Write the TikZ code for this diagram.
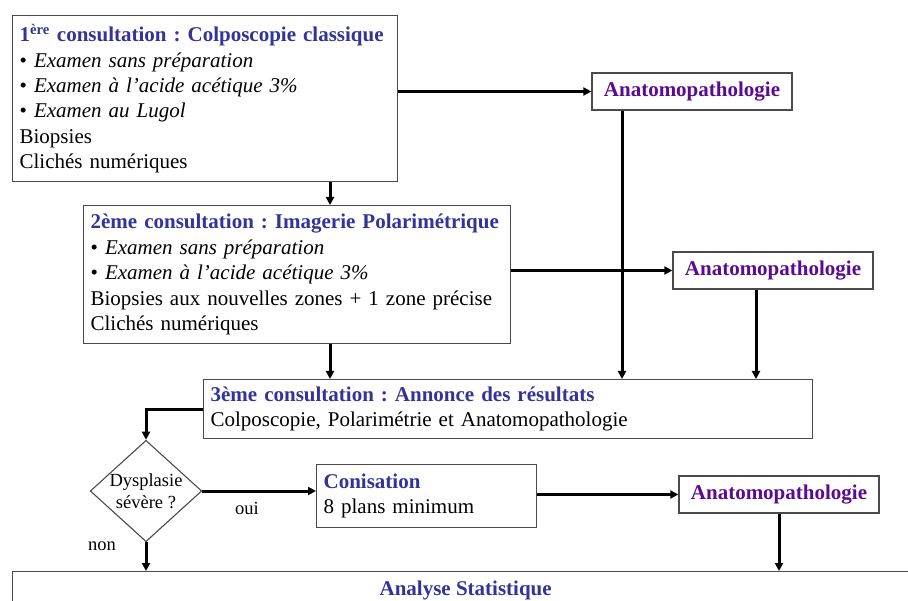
\documentclass[tikz,border=0pt]{standalone}
\usepackage{fontspec}
\setmainfont{Liberation Serif}
\usepackage{xcolor}
\definecolor{StepBlue}{HTML}{333399}
\definecolor{PathoPurple}{HTML}{5C0A91}
\definecolor{FrameGray}{HTML}{4A4A4A}
\usepackage{tikz}
\usetikzlibrary{positioning,arrows.meta,shapes.geometric,calc}
\frenchspacing
\tikzset{
  cbox/.style={draw=FrameGray,line width=1.3pt,fill=white,anchor=north west,align=left,inner xsep=7pt,inner ysep=0pt,font=\fontsize{21}{25.4}\selectfont},
  pbox/.style={draw=FrameGray,line width=1.3pt,fill=white,minimum width=200pt,minimum height=37pt,inner sep=0pt,font=\fontsize{21}{25}\selectfont\bfseries,text=PathoPurple},
  qdiamond/.style={diamond,draw=FrameGray,line width=1.1pt,aspect=1.1,inner sep=0pt,minimum width=110pt,minimum height=98pt,align=center,font=\fontsize{18.5}{22}\selectfont},
  flabel/.style={font=\fontsize{18.5}{22}\selectfont},
  flow/.style={-{Triangle[length=8pt,width=8pt]},line width=3pt}
}
\newcommand{\steptitle}[1]{{\color{StepBlue}\bfseries #1}}
\begin{document}
\begin{tikzpicture}[x=1pt,y=-1pt]
  \path[use as bounding box,clip] (0,0) rectangle (908,601);
  \fill[white] (0,0) rectangle (908,601);
  % consultations
  \node[cbox,text width=371pt,minimum height=166pt] (visit1) at (12,15)
    {\steptitle{1\textsuperscript{ère} consultation : Colposcopie classique}\\
     • \textit{Examen sans préparation}\\
     • \textit{Examen à l’acide acétique 3\%}\\
     • \textit{Examen au Lugol}\\
     Biopsies\\
     Clichés numériques};
  \node[cbox,text width=413pt,minimum height=138pt] (visit2) at (83,205)
    {\steptitle{2ème consultation : Imagerie Polarimétrique}\\
     • \textit{Examen sans préparation}\\
     • \textit{Examen à l’acide acétique 3\%}\\
     Biopsies aux nouvelles zones + 1 zone précise\\
     Clichés numériques};
  \node[cbox,text width=595pt,minimum height=59pt] (visit3) at (203,379)
    {\steptitle{3ème consultation : Annonce des résultats}\\
     Colposcopie, Polarimétrie et Anatomopathologie};
  % anatomopathologie
  \node[pbox] (patho1) at (692,91.5) {Anatomopathologie};
  \node[pbox] (patho2) at (773,270.5) {Anatomopathologie};
  \node[pbox] (patho3) at (779,494.5) {Anatomopathologie};
  % decision
  \node[qdiamond] (dysp) at (146,491) {Dysplasie\\sévère ?};
  \node[cbox,text width=206pt,minimum height=63pt] (conis) at (316,464)
    {\steptitle{Conisation}\\8 plans minimum};
  \node[draw=FrameGray,line width=1.3pt,fill=white,anchor=north west,minimum width=906pt,
    inner ysep=9pt,font=\fontsize{21}{25}\selectfont] (stats) at (12,571)
    {\steptitle{Analyse Statistique}};
  \node[flabel] (oui) at (247,508) {oui};
  \node[flabel] (non) at (102,546) {non};
  \coordinate (mainaxis) at (330,0);
  \coordinate (drop1) at (622,0);
  \coordinate (drop2) at (756,0);
  % connectors
  \draw[flow] (visit1.south -| mainaxis) -- (visit2.north -| mainaxis);
  \draw[flow] (visit2.south -| mainaxis) -- (visit3.north -| mainaxis);
  \draw[flow] (visit1.east |- patho1.west) -- (patho1.west);
  \draw[flow] (visit2.east |- patho2.west) -- (patho2.west);
  \draw[flow] (patho1.south -| drop1) -- (visit3.north -| drop1);
  \draw[flow] (patho2.south -| drop2) -- (visit3.north -| drop2);
  \draw[flow] (visit3.west) -| (dysp.north);
  \draw[flow] (dysp.east) -- (dysp.east -| conis.west);
  \draw[flow] (conis.east |- patho3.west) -- (patho3.west);
  \draw[flow] (dysp.south) -- (dysp.south |- stats.north);
  \draw[flow] (patho3.south) -- (patho3.south |- stats.north);
\end{tikzpicture}
\end{document}
